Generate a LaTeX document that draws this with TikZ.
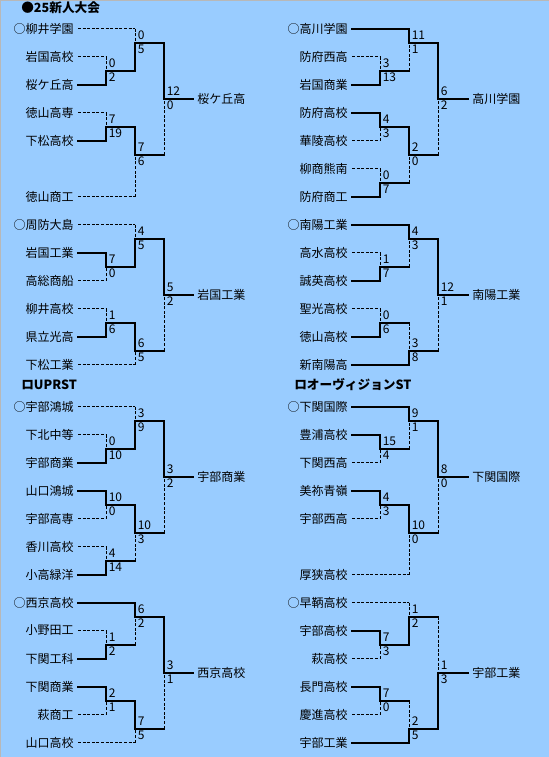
\documentclass[tikz,border=0pt]{standalone}
\usepackage{fontspec}
\newfontfamily\jp{Noto Sans CJK JP}
\definecolor{bgblue}{HTML}{99CCFF}
\definecolor{edgegray}{HTML}{B8B8B8}
\tikzset{
  win/.style={line width=1.5pt, line cap=rect},
  lose/.style={line width=0.75pt, dash pattern=on 2.25pt off 1.2pt},
  nm/.style={font=\jp\fontsize{9pt}{10pt}\selectfont, inner xsep=3pt, inner ysep=0pt},
  sc/.style={font=\jp\fontsize{9pt}{10pt}\selectfont, inner sep=0pt},
  hd/.style={font=\jp\bfseries\fontsize{9.5pt}{10pt}\selectfont, inner sep=0pt, anchor=west},
}
% match: name, x, ytop, ybot, yjunction, winner (t/b), top score, bottom score
\newcommand{\mt}[8]{%
  \coordinate (#1) at (#2,#5);
  \coordinate (#1-t) at (#2,#3);
  \coordinate (#1-b) at (#2,#4);
  \if t#6\relax
    \draw[win] (#1-t) -- (#1); \draw[lose] (#1-b) -- (#1);
  \else
    \draw[lose] (#1-t) -- (#1); \draw[win] (#1-b) -- (#1);
  \fi
  \node[sc, anchor=base west, xshift=1.9pt, yshift=2.6pt] (#1-st) at (#1) {#7};
  \node[sc, anchor=base west, xshift=1.9pt, yshift=-8.25pt] (#1-sb) at (#1) {#8};
}
\newcommand{\entL}[5]{\node[nm, anchor=east] (#1) at (78,#2) {#3}; \draw[#5] (#1.east) -- (#4);}
\newcommand{\entR}[5]{\node[nm, anchor=east] (#1) at (352,#2) {#3}; \draw[#5] (#1.east) -- (#4);}
\newcommand{\lk}[2]{\draw[win] (#1) -- (#2);}
\newcommand{\wnL}[4]{\node[nm, anchor=west] (#1) at (193,#2) {#4}; \draw[win] (#3) -- (#1.west);}
\newcommand{\wnR}[4]{\node[nm, anchor=west] (#1) at (468,#2) {#4}; \draw[win] (#3) -- (#1.west);}
\begin{document}
\begin{tikzpicture}[x=0.75pt, y=-0.75pt]
\useasboundingbox (0,0) rectangle (549,757);
\fill[bgblue] (0,0) rectangle (549,757);
\draw[edgegray, line width=0.75pt] (0.5,757) -- (0.5,0.5) -- (549,0.5);

% headings
\node[hd] (H1) at (21,7.5) {●25新人大会};
\node[hd] (H2) at (21,384.5) {ロUPRST};
\node[hd] (H3) at (294,384.5) {ロオーヴィジョンST};

% ---------- Bracket A1 ----------
\mt{A1a}{106}{56.5}{84.5}{70.5}{b}{0}{2}
\mt{A1b}{135}{28.5}{70.5}{42.5}{b}{0}{5}
\mt{A1c}{106}{112.5}{140.5}{126.5}{b}{7}{19}
\mt{A1d}{135}{126.5}{196.5}{154.5}{t}{7}{6}
\mt{A1f}{164}{42.5}{154.5}{98.5}{t}{12}{0}
\entL{A1n1}{28.5}{○柳井学園}{A1b-t}{lose}
\entL{A1n2}{56.5}{岩国高校}{A1a-t}{lose}
\entL{A1n3}{84.5}{桜ケ丘高}{A1a-b}{win}
\entL{A1n4}{112.5}{徳山高専}{A1c-t}{lose}
\entL{A1n5}{140.5}{下松高校}{A1c-b}{win}
\entL{A1n6}{196.5}{徳山商工}{A1d-b}{lose}
\lk{A1a}{A1b-b} \lk{A1b}{A1f-t} \lk{A1c}{A1d-t} \lk{A1d}{A1f-b}
\wnL{A1w}{98.5}{A1f}{桜ケ丘高}

% ---------- Bracket B1 ----------
\mt{B1a}{380}{56.5}{84.5}{70.5}{b}{3}{13}
\mt{B1b}{409}{28.5}{70.5}{42.5}{t}{11}{1}
\mt{B1c}{380}{112.5}{140.5}{126.5}{t}{4}{3}
\mt{B1d}{380}{168.5}{196.5}{182.5}{b}{0}{7}
\mt{B1e}{409}{126.5}{182.5}{154.5}{t}{2}{0}
\mt{B1f}{438}{42.5}{154.5}{98.5}{t}{6}{2}
\entR{B1n1}{28.5}{○高川学園}{B1b-t}{win}
\entR{B1n2}{56.5}{防府西高}{B1a-t}{lose}
\entR{B1n3}{84.5}{岩国商業}{B1a-b}{win}
\entR{B1n4}{112.5}{防府高校}{B1c-t}{win}
\entR{B1n5}{140.5}{華陵高校}{B1c-b}{lose}
\entR{B1n6}{168.5}{柳商熊南}{B1d-t}{lose}
\entR{B1n7}{196.5}{防府商工}{B1d-b}{win}
\lk{B1a}{B1b-b} \lk{B1b}{B1f-t} \lk{B1c}{B1e-t} \lk{B1d}{B1e-b} \lk{B1e}{B1f-b}
\wnR{B1w}{98.5}{B1f}{高川学園}

% ---------- Bracket A2 ----------
\mt{A2a}{106}{252.5}{280.5}{266.5}{t}{7}{0}
\mt{A2b}{135}{224.5}{266.5}{238.5}{b}{4}{5}
\mt{A2c}{106}{308.5}{336.5}{322.5}{b}{1}{6}
\mt{A2d}{135}{322.5}{364.5}{350.5}{t}{6}{5}
\mt{A2f}{164}{238.5}{350.5}{294.5}{t}{5}{2}
\entL{A2n1}{224.5}{○周防大島}{A2b-t}{lose}
\entL{A2n2}{252.5}{岩国工業}{A2a-t}{win}
\entL{A2n3}{280.5}{高総商船}{A2a-b}{lose}
\entL{A2n4}{308.5}{柳井高校}{A2c-t}{lose}
\entL{A2n5}{336.5}{県立光高}{A2c-b}{win}
\entL{A2n6}{364.5}{下松工業}{A2d-b}{lose}
\lk{A2a}{A2b-b} \lk{A2b}{A2f-t} \lk{A2c}{A2d-t} \lk{A2d}{A2f-b}
\wnL{A2w}{294.5}{A2f}{岩国工業}

% ---------- Bracket B2 ----------
\mt{B2a}{380}{252.5}{280.5}{266.5}{b}{1}{7}
\mt{B2b}{409}{224.5}{266.5}{238.5}{t}{4}{3}
\mt{B2c}{380}{308.5}{336.5}{322.5}{b}{0}{6}
\mt{B2d}{409}{322.5}{364.5}{350.5}{b}{3}{8}
\mt{B2f}{438}{238.5}{350.5}{294.5}{t}{12}{1}
\entR{B2n1}{224.5}{○南陽工業}{B2b-t}{win}
\entR{B2n2}{252.5}{高水高校}{B2a-t}{lose}
\entR{B2n3}{280.5}{誠英高校}{B2a-b}{win}
\entR{B2n4}{308.5}{聖光高校}{B2c-t}{lose}
\entR{B2n5}{336.5}{徳山高校}{B2c-b}{win}
\entR{B2n6}{364.5}{新南陽高}{B2d-b}{win}
\lk{B2a}{B2b-b} \lk{B2b}{B2f-t} \lk{B2c}{B2d-t} \lk{B2d}{B2f-b}
\wnR{B2w}{294.5}{B2f}{南陽工業}

% ---------- Bracket A3 ----------
\mt{A3a}{106}{434.5}{462.5}{448.5}{b}{0}{10}
\mt{A3b}{135}{406.5}{448.5}{420.5}{b}{3}{9}
\mt{A3c}{106}{490.5}{518.5}{504.5}{t}{10}{0}
\mt{A3d}{106}{546.5}{574.5}{560.5}{b}{4}{14}
\mt{A3e}{135}{504.5}{560.5}{532.5}{t}{10}{3}
\mt{A3f}{164}{420.5}{532.5}{476.5}{t}{3}{2}
\entL{A3n1}{406.5}{○宇部鴻城}{A3b-t}{lose}
\entL{A3n2}{434.5}{下北中等}{A3a-t}{lose}
\entL{A3n3}{462.5}{宇部商業}{A3a-b}{win}
\entL{A3n4}{490.5}{山口鴻城}{A3c-t}{win}
\entL{A3n5}{518.5}{宇部高専}{A3c-b}{lose}
\entL{A3n6}{546.5}{香川高校}{A3d-t}{lose}
\entL{A3n7}{574.5}{小高緑洋}{A3d-b}{win}
\lk{A3a}{A3b-b} \lk{A3b}{A3f-t} \lk{A3c}{A3e-t} \lk{A3d}{A3e-b} \lk{A3e}{A3f-b}
\wnL{A3w}{476.5}{A3f}{宇部商業}

% ---------- Bracket B3 ----------
\mt{B3a}{380}{434.5}{462.5}{448.5}{t}{15}{4}
\mt{B3b}{409}{406.5}{448.5}{420.5}{t}{9}{1}
\mt{B3c}{380}{490.5}{518.5}{504.5}{t}{4}{3}
\mt{B3d}{409}{504.5}{574.5}{532.5}{t}{10}{0}
\mt{B3f}{438}{420.5}{532.5}{476.5}{t}{8}{0}
\entR{B3n1}{406.5}{○下関国際}{B3b-t}{win}
\entR{B3n2}{434.5}{豊浦高校}{B3a-t}{win}
\entR{B3n3}{462.5}{下関西高}{B3a-b}{lose}
\entR{B3n4}{490.5}{美祢青嶺}{B3c-t}{win}
\entR{B3n5}{518.5}{宇部西高}{B3c-b}{lose}
\entR{B3n6}{574.5}{厚狭高校}{B3d-b}{lose}
\lk{B3a}{B3b-b} \lk{B3b}{B3f-t} \lk{B3c}{B3d-t} \lk{B3d}{B3f-b}
\wnR{B3w}{476.5}{B3f}{下関国際}

% ---------- Bracket A4 ----------
\mt{A4a}{106}{630.5}{658.5}{644.5}{b}{1}{2}
\mt{A4b}{135}{602.5}{644.5}{616.5}{t}{6}{2}
\mt{A4c}{106}{686.5}{714.5}{700.5}{t}{2}{1}
\mt{A4d}{135}{700.5}{742.5}{728.5}{t}{7}{5}
\mt{A4f}{164}{616.5}{728.5}{672.5}{t}{3}{1}
\entL{A4n1}{602.5}{○西京高校}{A4b-t}{win}
\entL{A4n2}{630.5}{小野田工}{A4a-t}{lose}
\entL{A4n3}{658.5}{下関工科}{A4a-b}{win}
\entL{A4n4}{686.5}{下関商業}{A4c-t}{win}
\entL{A4n5}{714.5}{萩商工}{A4c-b}{lose}
\entL{A4n6}{742.5}{山口高校}{A4d-b}{lose}
\lk{A4a}{A4b-b} \lk{A4b}{A4f-t} \lk{A4c}{A4d-t} \lk{A4d}{A4f-b}
\wnL{A4w}{672.5}{A4f}{西京高校}

% ---------- Bracket B4 ----------
\mt{B4a}{380}{630.5}{658.5}{644.5}{t}{7}{3}
\mt{B4b}{409}{602.5}{644.5}{616.5}{b}{1}{2}
\mt{B4c}{380}{686.5}{714.5}{700.5}{t}{7}{0}
\mt{B4d}{409}{700.5}{742.5}{728.5}{b}{2}{5}
\mt{B4f}{438}{616.5}{728.5}{672.5}{b}{1}{3}
\entR{B4n1}{602.5}{○早鞆高校}{B4b-t}{lose}
\entR{B4n2}{630.5}{宇部高校}{B4a-t}{win}
\entR{B4n3}{658.5}{萩高校}{B4a-b}{lose}
\entR{B4n4}{686.5}{長門高校}{B4c-t}{win}
\entR{B4n5}{714.5}{慶進高校}{B4c-b}{lose}
\entR{B4n6}{742.5}{宇部工業}{B4d-b}{win}
\lk{B4a}{B4b-b} \lk{B4b}{B4f-t} \lk{B4c}{B4d-t} \lk{B4d}{B4f-b}
\wnR{B4w}{672.5}{B4f}{宇部工業}
\end{tikzpicture}
\end{document}
